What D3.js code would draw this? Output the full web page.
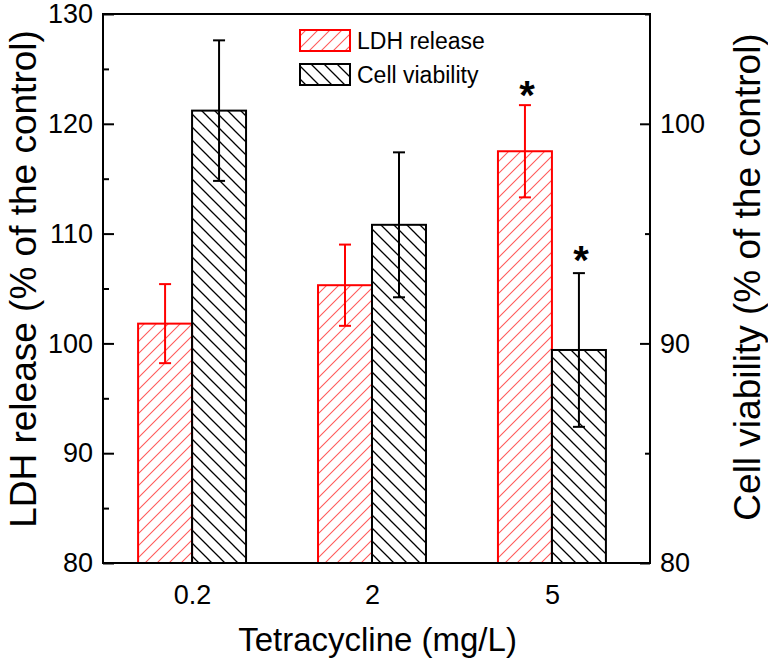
<!DOCTYPE html>
<html>
<head>
<meta charset="utf-8">
<script src="https://cdn.jsdelivr.net/npm/d3@7"></script>
<style>
  html, body { margin: 0; padding: 0; background: #fff; }
  svg { display: block; font-family: "Liberation Sans", Arial, sans-serif; }
</style>
</head>
<body>
<svg id="chart" width="768" height="659"></svg>
<script>
// ---- data ----
const categories = ["0.2", "2", "5"];
const ldhValues = [101.8, 105.3, 117.5];
const ldhErrors = [3.6, 3.7, 4.2];
const cellValues = [100.6, 95.4, 89.7];
const cellErrors = [3.2, 3.3, 3.5];
const ldhSignificant = [false, false, true];
const cellSignificant = [false, false, true];
const leftTicks = [80, 90, 100, 110, 120, 130];
const leftMinor = [85, 95, 105, 115, 125];
const rightTicks = [80, 90, 100];
const rightMinor = [85, 95, 105];
const seriesNames = ["LDH release", "Cell viability"];

// ---- layout ----
const svg = d3.select("#chart");
const L = 103, R = 650, T = 14, B = 563;
const x = d3.scaleLinear().domain([0.505, 3.545]).range([L, R]);
const yL = d3.scaleLinear().domain([80, 130]).range([B, T]);
const yR = d3.scaleLinear().domain([80, 105]).range([B, T]);
const barW = 0.3;
const red = "#ff0000";

// ---- hatch patterns ----
const defs = svg.append("defs");
function hatch(id, period, color, width, dir) {
  const p = defs.append("pattern").attr("id", id)
    .attr("patternUnits", "userSpaceOnUse")
    .attr("width", period).attr("height", period);
  const d = dir === "/" 
    ? `M0,${period} L${period},0 M-2,2 L2,-2 M${period-2},${period+2} L${period+2},${period-2}`
    : `M0,0 L${period},${period} M-2,${period-2} L2,${period+2} M${period-2},-2 L${period+2},2`;
  p.append("path").attr("d", d).attr("stroke", color).attr("stroke-width", width).attr("fill", "none");
}
hatch("hRed", 12, "#ff5a5a", 1.1, "/");
hatch("hBlack", 13, "#000", 1.3, "\\");

// ---- bars ----
const g = svg.append("g");
categories.forEach((c, i) => {
  const cx = i + 1;
  g.append("rect")
    .attr("x", x(cx - barW)).attr("width", x(cx) - x(cx - barW))
    .attr("y", yL(ldhValues[i])).attr("height", yL(80) - yL(ldhValues[i]))
    .attr("fill", "url(#hRed)").attr("stroke", red).attr("stroke-width", 2);
  g.append("rect")
    .attr("x", x(cx)).attr("width", x(cx + barW) - x(cx))
    .attr("y", yR(cellValues[i])).attr("height", yR(80) - yR(cellValues[i]))
    .attr("fill", "url(#hBlack)").attr("stroke", "#000").attr("stroke-width", 2);
});

// ---- error bars ----
function errBar(cxPx, yTop, yBot, color) {
  g.append("line").attr("x1", cxPx).attr("x2", cxPx).attr("y1", yTop).attr("y2", yBot)
    .attr("stroke", color).attr("stroke-width", 2);
  [yTop, yBot].forEach(yy => g.append("line")
    .attr("x1", cxPx - 6).attr("x2", cxPx + 6).attr("y1", yy).attr("y2", yy)
    .attr("stroke", color).attr("stroke-width", 2));
}
categories.forEach((c, i) => {
  const cx = i + 1;
  const lx = x(cx - barW / 2), rx = x(cx + barW / 2);
  errBar(lx, yL(ldhValues[i] + ldhErrors[i]), yL(ldhValues[i] - ldhErrors[i]), red);
  errBar(rx, yR(cellValues[i] + cellErrors[i]), yR(cellValues[i] - cellErrors[i]), "#000");
  if (ldhSignificant[i]) {
    g.append("text").attr("x", lx + 2).attr("y", yL(ldhValues[i] + ldhErrors[i]) + 4)
      .attr("text-anchor", "middle").attr("font-size", 40).attr("font-weight", "bold").text("*");
  }
  if (cellSignificant[i]) {
    g.append("text").attr("x", rx + 2).attr("y", yR(cellValues[i] + cellErrors[i]) + 1)
      .attr("text-anchor", "middle").attr("font-size", 40).attr("font-weight", "bold").text("*");
  }
});

// ---- axes ----
function styleAxis(sel, fs) {
  sel.select(".domain").remove();
  sel.selectAll("line").attr("stroke", "#000").attr("stroke-width", 2);
  sel.selectAll("text").attr("font-size", fs).attr("fill", "#000")
    .attr("font-family", "Liberation Sans, Arial, sans-serif");
}
svg.append("g").attr("transform", `translate(${L},0)`)
  .call(d3.axisLeft(yL).tickValues(leftTicks).tickSize(-11).tickPadding(10))
  .call(s => styleAxis(s, 27));
svg.append("g").attr("transform", `translate(${L},0)`)
  .call(d3.axisLeft(yL).tickValues(leftMinor).tickSize(-6).tickFormat(""))
  .call(s => styleAxis(s, 27));
svg.append("g").attr("transform", `translate(${R},0)`)
  .call(d3.axisRight(yR).tickValues(rightTicks).tickSize(-10).tickPadding(10))
  .call(s => styleAxis(s, 27));
svg.append("g").attr("transform", `translate(${R},0)`)
  .call(d3.axisRight(yR).tickValues(rightMinor).tickSize(-5).tickFormat(""))
  .call(s => styleAxis(s, 27));
svg.append("g").attr("transform", `translate(0,${B})`)
  .call(d3.axisBottom(x).tickValues([1, 2, 3]).tickFormat((d) => categories[d - 1]).tickSize(0).tickPadding(22))
  .call(s => styleAxis(s, 27));

// frame
svg.append("rect").attr("x", L).attr("y", T).attr("width", R - L).attr("height", B - T)
  .attr("fill", "none").attr("stroke", "#000").attr("stroke-width", 2);

// ---- titles ----
svg.append("text").attr("x", (L + R) / 2 + 1).attr("y", 651).attr("text-anchor", "middle")
  .attr("font-size", 33).text("Tetracycline (mg/L)");
svg.append("text").attr("transform", `translate(36,279) rotate(-90)`)
  .attr("text-anchor", "middle").attr("font-size", 37).text("LDH release (% of the control)");
svg.append("text").attr("transform", `translate(760,277) rotate(-90)`)
  .attr("text-anchor", "middle").attr("font-size", 37).text("Cell viability (% of the control)");

// ---- legend ----
const leg = svg.append("g");
[["url(#hRed)", red, 30], ["url(#hBlack)", "#000", 64]].forEach((d, i) => {
  leg.append("rect").attr("x", 300).attr("y", d[2]).attr("width", 50).attr("height", 21)
    .attr("fill", d[0]).attr("stroke", d[1]).attr("stroke-width", 2);
  leg.append("text").attr("x", 357).attr("y", d[2] + 19).attr("font-size", 23).text(seriesNames[i]);
});
</script>
</body>
</html>
